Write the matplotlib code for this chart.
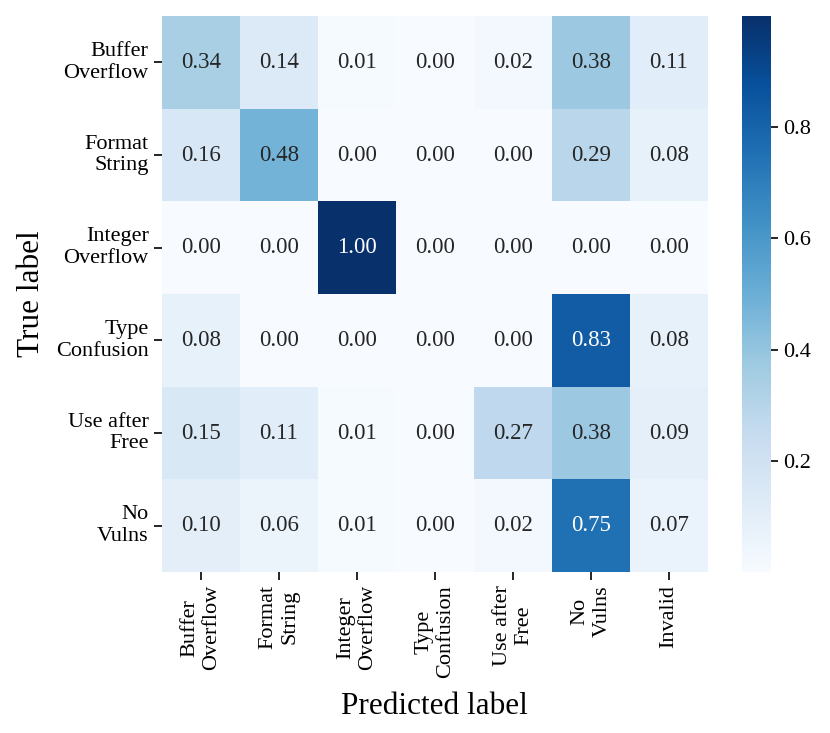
import matplotlib
matplotlib.use('Agg')
import matplotlib.pyplot as plt
import seaborn as sns
import numpy as np

true_labels = ['Buffer\nOverflow', 'Format\nString', 'Integer\nOverflow',
               'Type\nConfusion', 'Use after\nFree', 'No\nVulns']
pred_labels = ['Buffer\nOverflow', 'Format\nString', 'Integer\nOverflow',
               'Type\nConfusion', 'Use after\nFree', 'No\nVulns', 'Invalid']

row_buffer = [0.34, 0.14, 0.01, 0.00, 0.02, 0.38, 0.11]
row_format = [0.16, 0.48, 0.00, 0.00, 0.00, 0.29, 0.08]
row_integer = [0.00, 0.00, 1.00, 0.00, 0.00, 0.00, 0.00]
row_type = [0.08, 0.00, 0.00, 0.00, 0.00, 0.83, 0.08]
row_uaf = [0.15, 0.11, 0.01, 0.00, 0.27, 0.38, 0.09]
row_novuln = [0.10, 0.06, 0.01, 0.00, 0.02, 0.75, 0.07]

cm = np.array([row_buffer, row_format, row_integer, row_type, row_uaf, row_novuln])

plt.rcParams['font.family'] = ['Liberation Serif', 'DejaVu Serif']

fig = plt.figure(figsize=(8.3, 7.33), dpi=100)
ax = fig.add_axes([0.195, 0.2196, 0.658, 0.7585])
cax = fig.add_axes([0.894, 0.2196, 0.035, 0.7585])

sns.heatmap(cm, annot=True, fmt='.2f', cmap='Blues', ax=ax, cbar_ax=cax,
            xticklabels=pred_labels, yticklabels=true_labels,
            annot_kws={'size': 16.5})

ax.set_xlabel('Predicted label', fontsize=22.5, labelpad=10)
ax.set_ylabel('True label', fontsize=22.5, labelpad=7)
ax.tick_params(axis='both', labelsize=16, length=6, width=1.2)
plt.setp(ax.get_xticklabels(), rotation=90, ha='center', va='top')
plt.setp(ax.get_yticklabels(), rotation=0, ha='right', va='center')

cax.set_yticks([0.2, 0.4, 0.6, 0.8])
cax.tick_params(labelsize=16, length=5, width=1.2)

fig.savefig('out.png', dpi=100)
